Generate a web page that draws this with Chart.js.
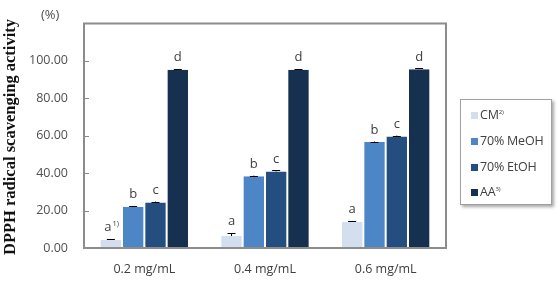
<!DOCTYPE html>
<html>
<head>
<meta charset="utf-8">
<script src="https://cdn.jsdelivr.net/npm/chart.js@4/dist/chart.umd.min.js"></script>
<style>
  html, body { margin: 0; padding: 0; background: #fff; }
  #wrap { position: relative; width: 559px; height: 287px; }
  #legend {
    position: absolute; left: 460px; top: 99px; width: 90px; height: 104px;
    border: 1px solid #a0a0a0; background: #fff;
    box-shadow: 2px 2px 3px rgba(0,0,0,0.35);
    font-family: "Open Sans", sans-serif; font-size: 12.5px; color: #404040;
  }
  #legend .item { position: absolute; left: 10px; height: 16px; line-height: 16px; white-space: nowrap; letter-spacing: -0.2px; }
  #legend .sw { display: inline-block; width: 7px; height: 7px; margin-right: 2px; vertical-align: 0px; }
  #legend sup { font-size: 6px; vertical-align: 5px; line-height: 0; }
  #ytitle {
    position: absolute; left: 10px; top: 137px;
    transform: translate(-50%, -50%) rotate(-90deg);
    font-family: "Liberation Serif", serif; font-weight: bold; font-size: 16.5px;
    white-space: nowrap; color: #111;
  }
  #unit {
    position: absolute; left: 41px; top: 5px;
    font-family: "Open Sans", sans-serif; font-size: 13px; color: #505050;
  }
</style>
</head>
<body>
<div id="wrap">
  <canvas id="c" width="559" height="287"></canvas>
  <div id="ytitle">DPPH radical scavenging activity</div>
  <div id="unit">(%)</div>
  <div id="legend"></div>
</div>
<script>
// ── Data ─────────────────────────────────────────────
const categories = ['0.2 mg/mL', '0.4 mg/mL', '0.6 mg/mL'];
const seriesNames = ['CM', '70% MeOH', '70% EtOH', 'AA'];
const seriesNotes = ['2)', '', '', '3)'];

const cmValues   = [4.3, 6.4, 13.9];
const meohValues = [22.1, 38.3, 56.6];
const etohValues = [24.3, 40.9, 59.6];
const aaValues   = [95.3, 95.3, 95.6];

const cmErrors   = [0.5, 1.6, 0.6];
const meohErrors = [0.4, 0.4, 0.3];
const etohErrors = [0.5, 0.6, 0.5];
const aaErrors   = [0.3, 0.3, 0.4];

// significance letters per series (same for every concentration)
const cmLetters   = ['a', 'a', 'a'];
const meohLetters = ['b', 'b', 'b'];
const etohLetters = ['c', 'c', 'c'];
const aaLetters   = ['d', 'd', 'd'];
const cmLetterNotes = ['1)', '', ''];

const yTicks = [0, 20, 40, 60, 80, 100];

const COLORS = ['#d3deef', '#4c86c6', '#254e80', '#16304f'];

const values  = [cmValues, meohValues, etohValues, aaValues];
const errors  = [cmErrors, meohErrors, etohErrors, aaErrors];
const letters = [cmLetters, meohLetters, etohLetters, aaLetters];

// ── Legend (HTML) ────────────────────────────────────
const legendEl = document.getElementById('legend');
const legendTops = [7, 33, 59, 84];
seriesNames.forEach((name, i) => {
  const d = document.createElement('div');
  d.className = 'item';
  d.style.top = legendTops[i] + 'px';
  d.innerHTML = `<span class="sw" style="background:${COLORS[i]}"></span>${name}` +
    (seriesNotes[i] ? `<sup>${seriesNotes[i]}</sup>` : '');
  legendEl.appendChild(d);
});

// ── Plugin: frame, inner ticks, error bars, letters ──
const decoPlugin = {
  id: 'deco',
  afterDatasetsDraw(chart) {
    const { ctx, chartArea: A } = chart;
    const y = chart.scales.y;
    ctx.save();
    // error bars
    ctx.strokeStyle = '#000';
    ctx.lineWidth = 1;
    chart.data.datasets.forEach((ds, di) => {
      const meta = chart.getDatasetMeta(di);
      meta.data.forEach((bar, i) => {
        const v = values[di][i], e = errors[di][i];
        const yt = y.getPixelForValue(v + e);
        const yb = y.getPixelForValue(v);
        const half = Math.min(4, bar.width * 0.18);
        ctx.beginPath();
        ctx.moveTo(bar.x, yb); ctx.lineTo(bar.x, yt);
        ctx.moveTo(bar.x - half, Math.round(yt) + 0.5);
        ctx.lineTo(bar.x + half, Math.round(yt) + 0.5);
        ctx.stroke();
        // letter
        const top = y.getPixelForValue(v + e);
        ctx.fillStyle = '#404040';
        ctx.font = '13px "Open Sans", sans-serif';
        ctx.textAlign = 'center';
        ctx.textBaseline = 'bottom';
        const L = letters[di][i];
        const note = di === 0 ? cmLetterNotes[i] : '';
        if (note) {
          const w = ctx.measureText(L).width;
          ctx.fillText(L, bar.x - 3, top - 5);
          ctx.font = '7.5px "Open Sans", sans-serif';
          ctx.textAlign = 'left';
          ctx.fillText(note, bar.x - 3 + w / 2 + 1, top - 11);
        } else {
          ctx.fillText(L, bar.x, top - 5);
        }
      });
    });
    // inner tick marks
    ctx.strokeStyle = '#888';
    yTicks.forEach(t => {
      const py = Math.round(y.getPixelForValue(t)) + 0.5;
      ctx.beginPath(); ctx.moveTo(A.left, py); ctx.lineTo(A.left + 5, py); ctx.stroke();
    });
    // frame
    ctx.strokeStyle = '#8c8c8c';
    ctx.lineWidth = 2;
    ctx.strokeRect(A.left, A.top, A.right - A.left, A.bottom - A.top);
    ctx.restore();
  },
};

new Chart(document.getElementById('c'), {
  type: 'bar',
  plugins: [decoPlugin],
  data: {
    labels: categories,
    datasets: seriesNames.map((name, i) => ({
      label: name,
      data: values[i],
      backgroundColor: COLORS[i],
      borderColor: '#ffffff',
      borderWidth: { left: 1, right: 1, top: 0, bottom: 0 },
      borderSkipped: false,
      barPercentage: 1,
      categoryPercentage: 0.74,
    })),
  },
  options: {
    responsive: false,
    animation: false,
    devicePixelRatio: 1,
    layout: { padding: { left: 0, right: 113, top: 6, bottom: 0 } },
    plugins: { legend: { display: false }, tooltip: { enabled: false } },
    scales: {
      x: {
        grid: { display: false, drawTicks: false },
        border: { display: false },
        ticks: { color: '#404040', padding: 14, font: { family: '"Open Sans", sans-serif', size: 12.5 } },
        afterFit(s) { s.height = 39; },
      },
      y: {
        min: 0, max: 120,
        grid: { display: false, drawTicks: false },
        border: { display: false },
        afterBuildTicks(s) { s.ticks = yTicks.map(v => ({ value: v })); },
        ticks: {
          color: '#505050', padding: 16,
          font: { family: '"Open Sans", sans-serif', size: 12.5 },
          callback: v => v.toFixed(2),
        },
        afterFit(s) { s.width = 84; },
      },
    },
  },
});
</script>
</body>
</html>
